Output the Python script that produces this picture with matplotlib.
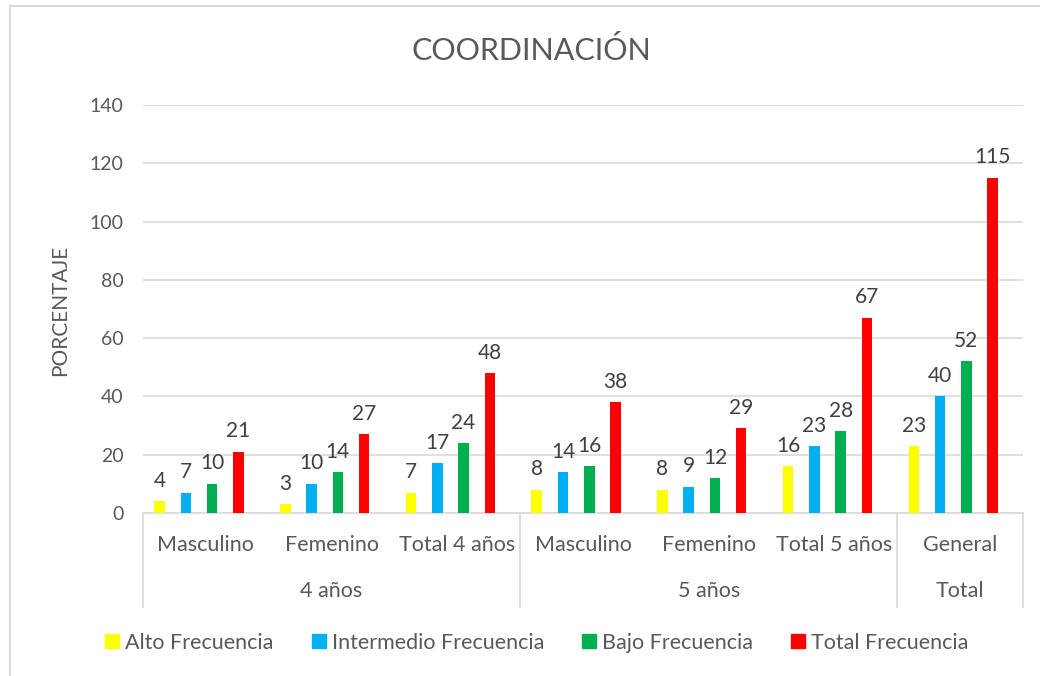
import numpy as np
import matplotlib.pyplot as plt
from matplotlib.lines import Line2D

plt.rcParams['font.family'] = ['Lato', 'DejaVu Sans']

# Data
categories = ['Masculino', 'Femenino', 'Total 4 años', 'Masculino', 'Femenino', 'Total 5 años', 'General']
groups = ['4 años', '5 años', 'Total']
group_sizes = [3, 3, 1]
series_names = ['Alto Frecuencia', 'Intermedio Frecuencia', 'Bajo Frecuencia', 'Total Frecuencia']
alto = [4, 3, 7, 8, 8, 16, 23]
intermedio = [7, 10, 17, 14, 9, 23, 40]
bajo = [10, 14, 24, 16, 12, 28, 52]
total = [21, 27, 48, 38, 29, 67, 115]
colors = ['#FFFF00', '#00B0F0', '#00B050', '#FF0000']

W, H = 1040, 676
fig = plt.figure(figsize=(W / 100, H / 100), dpi=100)

# plot area in pixels
left, right, top, bottom = 143, 1023, 105, 513
ax = fig.add_axes([left / W, 1 - bottom / H, (right - left) / W, (bottom - top) / H])

x = np.arange(len(categories))
step = 0.209
width = 0.084
for k, (vals, col) in enumerate(zip([alto, intermedio, bajo, total], colors)):
    pos = x + (k - 1.5) * step - 0.055
    bars = ax.bar(pos, vals, width=width, color=col, zorder=3)
    for b, v in zip(bars, vals):
        ax.annotate(str(v), (b.get_x() + b.get_width() / 2, v), xytext=(0, 7.5),
                    textcoords='offset points', ha='center', va='bottom',
                    fontsize=15, color='#404040')

ax.set_xlim(-0.5, len(categories) - 0.5)
ax.set_ylim(0, 140)
ax.set_yticks(np.arange(0, 141, 20))
ax.yaxis.grid(True, color='#D9D9D9', linewidth=1.2, zorder=0)
ax.set_axisbelow(True)
for s in ['top', 'right', 'left']:
    ax.spines[s].set_visible(False)
ax.spines['bottom'].set_color('#D9D9D9')
ax.spines['bottom'].set_linewidth(1.2)
ax.tick_params(axis='y', length=0, labelsize=14, labelcolor='#595959', pad=14)
ax.tick_params(axis='x', length=0, labelbottom=False)

# multi-level category labels
def px(xp, yp):
    return xp / W, 1 - yp / H

cw = (right - left) / len(categories)
for i, c in enumerate(categories):
    fig.text(*px(left + cw * (i + 0.5), 545), c, ha='center', va='center',
             fontsize=15.5, color='#595959')
start = 0
bounds = [0]
for g, n in zip(groups, group_sizes):
    fig.text(*px(left + cw * (start + n / 2), 591), g, ha='center', va='center',
             fontsize=15.5, color='#595959')
    start += n
    bounds.append(start)
for b in bounds:
    xb = left + cw * b
    fig.add_artist(Line2D([xb / W, xb / W], [1 - bottom / H, 1 - 607 / H],
                          color='#D9D9D9', linewidth=1.2))

# title and axis label
fig.text(*px(531, 50), 'COORDINACIÓN', ha='center', va='center', fontsize=22,
         color='#595959')
fig.text(*px(60, 310), 'PORCENTAJE', ha='center', va='center', rotation=90,
         fontsize=15, color='#595959')

# outer border (partially cropped)
fig.add_artist(Line2D([10 / W, 1], [1 - 6 / H, 1 - 6 / H], color='#D9D9D9', linewidth=1.5))
fig.add_artist(Line2D([10 / W, 10 / W], [0, 1 - 6 / H], color='#D9D9D9', linewidth=1.5))

# legend
handles = [Line2D([], [], marker='s', linestyle='none', markersize=10,
                  markerfacecolor=c, markeredgecolor=c) for c in colors]
fig.legend(handles, series_names, loc='center', bbox_to_anchor=px(535, 643),
           ncol=4, frameon=False, fontsize=15.5, labelcolor='#595959',
           handletextpad=0.1, columnspacing=1.6, handlelength=1.0)

fig.savefig('out.png', dpi=100)
